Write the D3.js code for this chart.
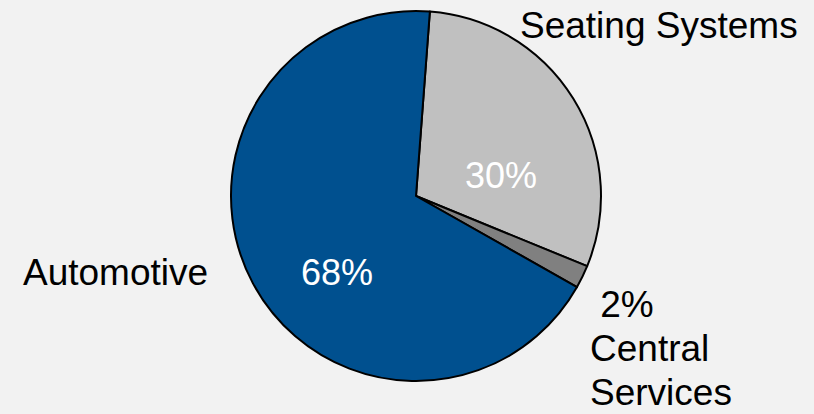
<!DOCTYPE html>
<html>
<head>
<meta charset="utf-8">
<script src="https://cdn.jsdelivr.net/npm/d3@7"></script>
<style>
  body { margin: 0; background: #f2f2f2; }
  svg { display: block; }
  text { font-family: "Liberation Sans", Arial, sans-serif; }
</style>
</head>
<body>
<svg width="814" height="414"></svg>
<script>
const segments = ["Seating Systems", "Central Services", "Automotive"];
const shares = [30, 2, 68];
const colors = ["#c0c0c0", "#808080", "#00508f"];

const width = 814;
const height = 414;
const cx = 416;
const cy = 196;
const radius = 185;
const startAngle = 4.3 * Math.PI / 180;

const svg = d3.select('svg');

svg.append('rect')
  .attr('width', width)
  .attr('height', height)
  .attr('fill', '#f2f2f2');

const pie = d3.pie()
  .sort(null)
  .startAngle(startAngle)
  .endAngle(startAngle + 2 * Math.PI);

const arc = d3.arc().innerRadius(0).outerRadius(radius);

const arcs = pie(shares);

const g = svg.append('g').attr('transform', `translate(${cx},${cy})`);

g.selectAll('path')
  .data(arcs)
  .enter()
  .append('path')
  .attr('d', arc)
  .attr('fill', (d, i) => colors[i])
  .attr('stroke', '#000')
  .attr('stroke-width', 2)
  .attr('stroke-linejoin', 'round');

// percent labels inside the two big slices (offsets from centre)
const pctPos = [[85, -8], null, [-79, 89]];

arcs.forEach((d, i) => {
  if (!pctPos[i]) return;
  g.append('text')
    .attr('x', pctPos[i][0])
    .attr('y', pctPos[i][1])
    .attr('text-anchor', 'middle')
    .attr('fill', '#fff')
    .attr('font-size', 36)
    .text(shares[i] + '%');
});

// outside labels
const labels = [
  { lines: ["Seating Systems"], x: 520, y: 38 },
  { lines: [" 2%", "Central", "Services"], x: 590, y: 317 },
  { lines: ["Automotive"], x: 23, y: 285 }
];

labels.forEach(l => {
  const t = svg.append('text')
    .attr('x', l.x)
    .attr('y', l.y)
    .attr('font-size', 37)
    .attr('fill', '#000')
    .attr('xml:space', 'preserve')
    .style('white-space', 'pre');
  l.lines.forEach((line, i) => {
    t.append('tspan')
      .attr('x', l.x)
      .attr('dy', i === 0 ? 0 : 44)
      .text(line);
  });
});
</script>
</body>
</html>
